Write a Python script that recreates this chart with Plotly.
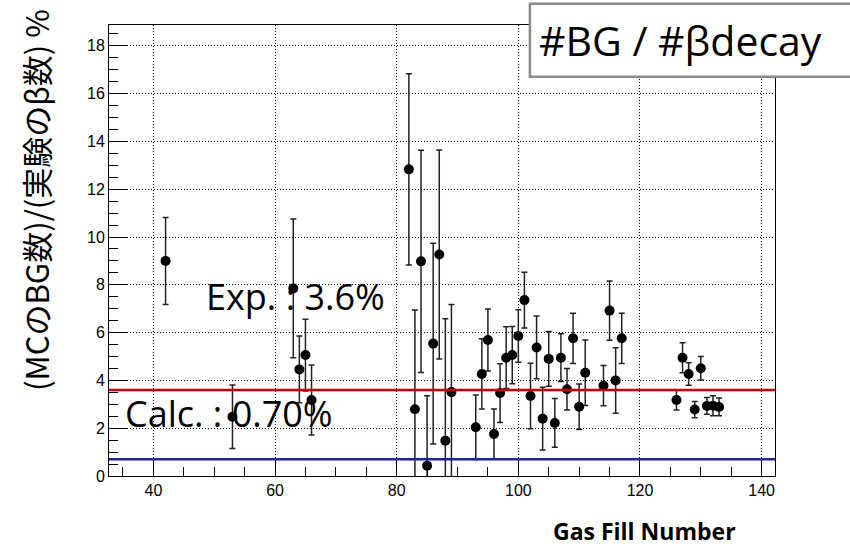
import plotly.graph_objects as go

# ---- data ----
gas_fill = [42, 53, 63, 64, 65, 66, 82, 83, 84, 85, 86, 87, 88, 89,
            93, 94, 95, 96, 97, 98, 99, 100, 101, 102, 103, 104, 105, 106,
            107, 108, 109, 110, 111, 114, 115, 116, 117,
            126, 127, 128, 129, 130, 131, 132, 133]
ratio = [9.0, 2.48, 7.85, 4.46, 5.06, 3.18, 12.83, 2.79, 8.98, 0.43, 5.54, 9.27, 1.48, 3.51,
         2.04, 4.27, 5.69, 1.76, 3.47, 4.95, 5.06, 5.86, 7.36, 3.35, 5.38, 2.40, 4.90, 2.22,
         4.95, 3.63, 5.76, 2.90, 4.32, 3.78, 6.92, 4.00, 5.76,
         3.18, 4.95, 4.27, 2.78, 4.51, 2.93, 2.94, 2.89]
ratio_err = [1.82, 1.33, 2.90, 1.40, 1.50, 1.46, 4.00, 4.16, 4.65, 2.93, 4.20, 4.37, 5.10, 3.67,
             1.35, 1.47, 1.30, 1.04, 1.23, 1.29, 1.20, 1.10, 1.17, 1.37, 1.31, 1.31, 1.15, 1.02,
             1.00, 0.87, 1.05, 0.95, 1.37, 0.84, 1.24, 1.37, 1.05,
             0.42, 0.63, 0.47, 0.34, 0.49, 0.35, 0.42, 0.37]

exp_level = 3.6     # Exp. : 3.6%
calc_level = 0.70   # Calc. : 0.70%

x_ticks = [40, 60, 80, 100, 120, 140]
y_ticks = [0, 2, 4, 6, 8, 10, 12, 14, 16, 18]

title_text = "#BG / #βdecay"
exp_label = "Exp. : 3.6%"
calc_label = "Calc. : 0.70%"
y_title = "(MCのBG数)/(実験のβ数) %"
x_title = "Gas Fill Number"

fig = go.Figure()
fig.add_trace(go.Scatter(
    x=gas_fill, y=ratio, mode="markers",
    marker=dict(color="black", size=10, symbol="circle"),
    error_y=dict(type="data", array=ratio_err, visible=True,
                 color="#222222", thickness=1.5, width=3),
    showlegend=False, hoverinfo="x+y",
))

fig.add_shape(type="line", xref="paper", x0=0, x1=1, yref="y",
              y0=exp_level, y1=exp_level, line=dict(color="#cc0000", width=2.5),
              layer="above")
fig.add_shape(type="line", xref="paper", x0=0, x1=1, yref="y",
              y0=calc_level, y1=calc_level, line=dict(color="#1c22a0", width=2.5),
              layer="above")

# title box (extends beyond the right page edge)
fig.add_shape(type="rect", xref="paper", yref="paper",
              x0=0.632, x1=1.14, y0=0.885, y1=1.047,
              line=dict(color="#8a8a8a", width=2.5), fillcolor="white", layer="above")

fig.add_annotation(text=title_text, xref="paper", yref="paper",
                   x=0.643, y=0.966, xanchor="left", yanchor="middle",
                   showarrow=False,
                   font=dict(family="Open Sans", size=41, color="black"))
fig.add_annotation(text=exp_label, xref="paper", yref="paper",
                   x=(204 - 109) / 666, y=(476 - 296) / 451, xanchor="left", yanchor="middle",
                   showarrow=False,
                   font=dict(family="Open Sans", size=36, color="black"))
fig.add_annotation(text=calc_label, xref="paper", yref="paper",
                   x=(123 - 109) / 666, y=(476 - 413) / 451, xanchor="left", yanchor="middle",
                   showarrow=False,
                   font=dict(family="Open Sans", size=36, color="black"))
fig.add_annotation(text=y_title, xref="paper", yref="paper",
                   x=(35 - 109) / 666, y=(476 - 200) / 451, xanchor="center", yanchor="middle",
                   textangle=-90, showarrow=False,
                   font=dict(family="Noto Sans CJK JP", size=31, color="black"))
fig.add_annotation(text="<b>" + x_title + "</b>", xref="paper", yref="paper",
                   x=(644 - 109) / 666, y=(476 - 531) / 451, xanchor="center", yanchor="middle",
                   showarrow=False,
                   font=dict(family="Open Sans", size=23, color="black"))

axis_common = dict(
    showline=True, linecolor="black", linewidth=1, mirror=True,
    ticks="inside", ticklen=18, tickwidth=1, tickcolor="black",
    showgrid=True, gridcolor="black", gridwidth=1, griddash="1px,2px",
    zeroline=False,
    tickfont=dict(family="Liberation Sans", size=16, color="black"),
)

fig.update_xaxes(range=[32.7, 142.2], tickvals=x_ticks,
                 minor=dict(dtick=5, tick0=0, ticks="inside", ticklen=9,
                            tickcolor="black", showgrid=False),
                 **axis_common)
fig.update_yaxes(range=[0, 18.87], tickvals=y_ticks,
                 minor=dict(dtick=0.5, tick0=0, ticks="inside", ticklen=9,
                            tickcolor="black", showgrid=False),
                 **axis_common)

fig.update_layout(
    width=850, height=547,
    margin=dict(l=109, r=75, t=25, b=71),
    paper_bgcolor="white", plot_bgcolor="white",
    showlegend=False,
)

fig.write_html("out.html", config={"displayModeBar": False},
               post_script="document.body.style.margin='0';document.body.style.overflow='hidden';")
